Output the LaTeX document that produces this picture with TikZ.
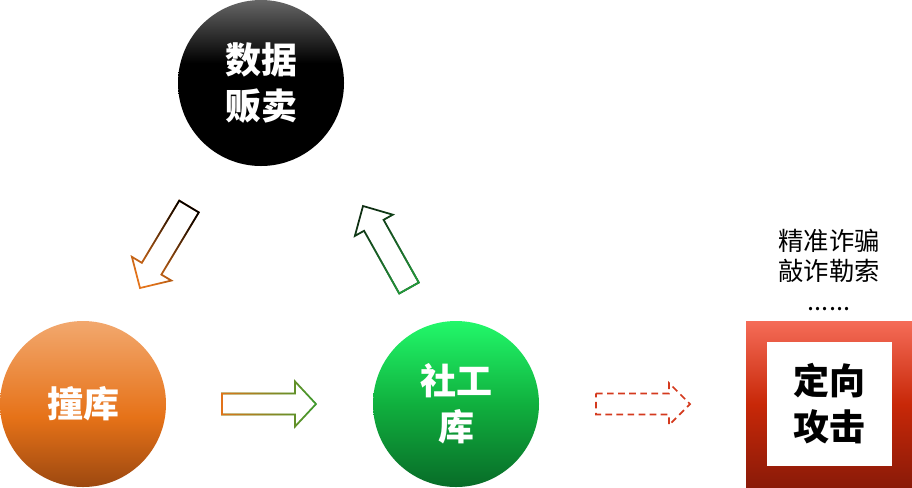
\documentclass[tikz,border=0pt]{standalone}
\usepackage{fontspec}
\setmainfont{Noto Sans CJK SC}
\usetikzlibrary{calc,fadings}
\definecolor{arrorange}{HTML}{E3731A}
\definecolor{arrgreen}{HTML}{3C9A2E}
\definecolor{arrgreenB}{HTML}{22993A}
\definecolor{arrdark}{HTML}{0E2E12}
\definecolor{arrred}{HTML}{D43A1E}
\pgfdeclareverticalshading{shblack}{100bp}{color(0bp)=(black); color(25bp)=(black); color(56bp)=(black); color(75bp)=(black!60); color(100bp)=(black!60)}
\pgfdeclareverticalshading{shorange}{100bp}{color(0bp)=({rgb,255:red,156;green,72;blue,16}); color(25bp)=({rgb,255:red,156;green,72;blue,16}); color(46bp)=({rgb,255:red,230;green,114;blue,24}); color(75bp)=({rgb,255:red,242;green,168;blue,110}); color(100bp)=({rgb,255:red,242;green,168;blue,110})}
\pgfdeclareverticalshading{shgreen}{100bp}{color(0bp)=({rgb,255:red,8;green,108;blue,40}); color(25bp)=({rgb,255:red,8;green,108;blue,40}); color(50bp)=({rgb,255:red,16;green,176;blue,62}); color(75bp)=({rgb,255:red,34;green,248;blue,106}); color(100bp)=({rgb,255:red,34;green,248;blue,106})}
\pgfdeclareverticalshading{shred}{100bp}{color(0bp)=({rgb,255:red,138;green,26;blue,8}); color(25bp)=({rgb,255:red,138;green,26;blue,8}); color(50bp)=({rgb,255:red,200;green,40;blue,8}); color(75bp)=({rgb,255:red,245;green,108;blue,88}); color(100bp)=({rgb,255:red,245;green,108;blue,88})}
\tikzfading[name=fadetail, left color=transparent!0, right color=transparent!100]
\newcommand{\bigfont}{\fontsize{27}{34.5}\selectfont\bfseries}
\newcommand{\notefont}{\fontsize{19}{22.5}\selectfont}
\newcommand{\blockarr}[7][]{%
  \coordinate (#2-j) at ($(#4)!#7!(#3)$);
  \draw[#1] ($(#3)!#5!90:(#4)$) -- ($(#2-j)!#5!90:(#4)$) -- ($(#2-j)!#6!90:(#4)$) -- (#4)
    -- ($(#2-j)!#6!-90:(#4)$) -- ($(#2-j)!#5!-90:(#4)$) -- ($(#3)!#5!-90:(#4)$) -- cycle;}
\begin{document}
\begin{tikzpicture}[x=0.75pt,y=-0.75pt,
  circ/.style={circle, inner sep=0pt, minimum size=124.5pt, text=white, align=center, font=\bigfont},
  arr/.style={line width=1.3pt, line join=miter}]
\useasboundingbox (0,0) rectangle (912,487);
% circles
\node[circ, shading=shblack] (sell) at (261,83) {数据\\贩卖};
\node[circ, shading=shorange] (crash) at (83,404) {撞库};
\node[circ, shading=shgreen] (social) at (456,404) {社工\\库};
% target box
\node[rectangle, inner sep=0pt, minimum width=124.5pt, minimum height=124.5pt, shading=shred] (attack) at (829,404) {};
\node[rectangle, fill=white, inner sep=0pt, minimum width=93.75pt, minimum height=93pt, align=center, font=\bigfont, text=black] (attackin) at (829.3,404) {定向\\攻击};
\node[align=center, inner sep=0pt, font=\notefont] (note) at (829,270) {精准诈骗\\敲诈勒索\\......};
% arrows
\coordinate (a1t) at (189,206.5); \coordinate (a1h) at (140,288);
\blockarr[arr, draw=arrorange]{a1}{a1t}{a1h}{8.55pt}{17.25pt}{16.9pt}
\blockarr[arr, draw=black, path fading=fadetail, fading angle=239]{a1}{a1t}{a1h}{8.55pt}{17.25pt}{16.9pt}
\coordinate (a2t) at (409,288); \coordinate (a2h) at (363,206);
\blockarr[arr, draw=arrdark]{a2}{a2t}{a2h}{8.4pt}{16.3pt}{16.6pt}
\blockarr[arr, draw=arrgreenB, path fading=fadetail, fading angle=119.3]{a2}{a2t}{a2h}{8.4pt}{16.3pt}{16.6pt}
\coordinate (a3t) at (222,404); \coordinate (a3h) at (316,404);
\blockarr[arr, draw=arrgreen]{a3}{a3t}{a3h}{7.9pt}{16.9pt}{15.75pt}
\blockarr[arr, draw=arrorange, path fading=fadetail, fading angle=0]{a3}{a3t}{a3h}{7.9pt}{16.9pt}{15.75pt}
\coordinate (a4t) at (596,404); \coordinate (a4h) at (690,404);
\blockarr[arr, draw=arrred, dash pattern=on 5pt off 3.3pt]{a4}{a4t}{a4h}{7.9pt}{15.75pt}{15.75pt}
\end{tikzpicture}
\end{document}
